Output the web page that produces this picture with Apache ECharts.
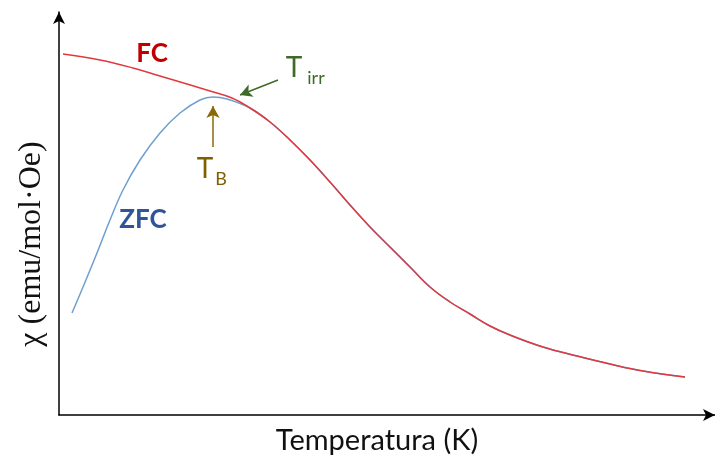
<!DOCTYPE html>
<html>
<head>
<meta charset="utf-8">
<script src="https://cdn.jsdelivr.net/npm/echarts@6/dist/echarts.min.js"></script>
<style>html,body{margin:0;padding:0;background:#fff}#c{width:715px;height:457px}</style>
</head>
<body>
<div id="c"></div>
<script>
// Temperature (arbitrary units along the axis) and susceptibility (arbitrary units)
var tailT   = [191, 211, 231, 251, 271, 291, 311, 331, 351, 371, 391, 411, 431, 451, 484, 518, 551, 584, 626];
var tailChi = [307, 293, 275, 255, 233, 210, 188, 168, 148, 128, 113, 101, 89, 80, 68, 59, 51, 44, 38];
var fcLowT   = [4, 41, 74, 101, 128, 151, 173];
var fcLowChi = [361, 355, 347, 339, 331, 324, 317];
var zfcLowT   = [13, 24, 38, 51, 64, 81, 101, 121, 141, 154, 168];
var zfcLowChi = [102, 128, 162, 195, 225, 255, 282, 302, 315, 318, 316];
var xRange = [0, 656];
var yRange = [0, 403];

function pairs(xs, ys){ return xs.map(function(x,i){ return [x, ys[i]]; }); }
var fcData  = pairs(fcLowT, fcLowChi).concat(pairs(tailT, tailChi));
var zfcData = pairs(zfcLowT, zfcLowChi).concat(pairs(tailT, tailChi));

var sans = 'Lato, "Open Sans", sans-serif';
var chart = echarts.init(document.getElementById('c'), null, {renderer:'canvas'});
var axisCommon = {
  type: 'value',
  axisLine: {show:true, onZero:false, symbol:['none','arrow'], symbolSize:[9,12], lineStyle:{color:'#000', width:1.5}},
  axisTick: {show:false}, axisLabel: {show:false}, splitLine: {show:false}
};
function lbl(text, color, size, bold, font){
  return {show:true, formatter:text, color:color, fontSize:size, fontWeight: bold?'bold':'normal',
          fontFamily: font||sans, position:[0,0], align:'center', verticalAlign:'middle'};
}
chart.setOption({
  animation: false,
  grid: {left:59, right:0, top:12, bottom:42},
  xAxis: Object.assign({}, axisCommon, {min:xRange[0], max:xRange[1]}),
  yAxis: Object.assign({}, axisCommon, {min:yRange[0], max:yRange[1]}),
  graphic: [
    {type:'text', x:377, y:441, style:{text:'Temperatura (K)', font:'29px '+sans, fill:'#111', align:'center', verticalAlign:'middle'}, silent:true},
    {type:'text', x:32, y:244, rotation:Math.PI/2, style:{text:'χ (emu/mol·Oe)', font:'32px "Liberation Serif", serif', fill:'#111', align:'center', verticalAlign:'middle'}, silent:true}
  ],
  series: [
    {
      name:'ZFC', type:'line', data: zfcData, smooth:0.4,
      showSymbol:false, silent:true, lineStyle:{color:'#6f9fd0', width:1.5}, z:2
    },
    {
      name:'FC', type:'line', data: fcData, smooth:0.4,
      showSymbol:false, silent:true, lineStyle:{color:'#e03a3e', width:1.5}, z:3,
      markPoint: {
        symbol:'circle', symbolSize:0, silent:true,
        data: [
          {coord:[93,361], label: lbl('FC', '#c00000', 26, true)},
          {coord:[84,195], label: lbl('ZFC', '#2f5597', 26, true)},
          {coord:[235,347], label: lbl('T', '#3e6b2a', 28, false)},
          {coord:[257,337], label: lbl('irr', '#3e6b2a', 18, false)},
          {coord:[146,246], label: lbl('T', '#7f6000', 28, false)},
          {coord:[162,236], label: lbl('B', '#7f6000', 18, false)}
        ]
      },
      markLine: {
        silent:true, symbol:['none','arrow'], symbolSize:[10,12], label:{show:false},
        emphasis:{disabled:true},
        data: [
          [{coord:[219,335], lineStyle:{color:'#3e6b2a', width:1.5, type:'solid'}}, {coord:[181,320]}],
          [{coord:[154,268], lineStyle:{color:'#8a6a08', width:1.5, type:'solid'}}, {coord:[154,309]}]
        ]
      }
    }
  ]
});
</script>
</body>
</html>
